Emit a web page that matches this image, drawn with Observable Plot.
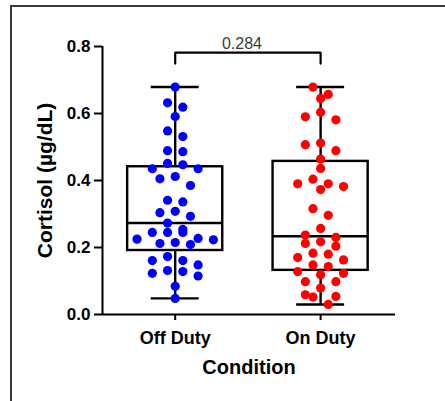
<!DOCTYPE html>
<html>
<head>
<meta charset="utf-8">
<script src="https://cdn.jsdelivr.net/npm/d3@7"></script>
<script src="https://cdn.jsdelivr.net/npm/@observablehq/plot@0.6"></script>
<style>
  html, body { margin: 0; padding: 0; background: #fff; }
  #wrap { position: relative; width: 445px; height: 401px; overflow: hidden; }
  #border { position: absolute; left: 10px; top: 5px; right: -10px; bottom: -10px;
            border-top: 2px solid #3a3a3a; border-left: 2px solid #3a3a3a; pointer-events: none; }
</style>
</head>
<body>
<div id="wrap"></div>
<script>
// ---- data ----
const categories = ["Off Duty", "On Duty"];
const groupColors = ["#0000ff", "#ff0000"];

const offDuty = [
  0.679, 0.632, 0.619, 0.591, 0.548, 0.531, 0.489, 0.486, 0.451, 0.447,
  0.435, 0.435, 0.412, 0.405, 0.385, 0.341, 0.336, 0.308, 0.304, 0.293,
  0.273, 0.254, 0.245, 0.245, 0.245, 0.227, 0.225, 0.223, 0.215, 0.212,
  0.209, 0.173, 0.161, 0.161, 0.148, 0.131, 0.128, 0.123, 0.115, 0.084,
  0.048
];
const onDuty = [
  0.679, 0.657, 0.645, 0.604, 0.590, 0.581, 0.512, 0.507, 0.489, 0.464,
  0.436, 0.404, 0.390, 0.390, 0.382, 0.373, 0.316, 0.296, 0.257, 0.237,
  0.230, 0.217, 0.212, 0.204, 0.183, 0.180, 0.170, 0.163, 0.148, 0.143,
  0.128, 0.123, 0.119, 0.098, 0.098, 0.079, 0.059, 0.054, 0.052, 0.030
];
const seriesValues = [offDuty, onDuty];

const comparisonFrom = "Off Duty";
const comparisonTo = "On Duty";
const pValueLabel = "0.284";

const yTicks = [0.0, 0.2, 0.4, 0.6, 0.8];
const xTitle = "Condition";
const yTitle = "Cortisol (µg/dL)";

// ---- layout helpers ----
const xDomain = [0.5, 2.515];
const boxHalf = 0.327;   // half box width, x units
const capHalf = 0.165;   // half whisker cap width
const colStep = 0.105;   // horizontal step between dots in a row
const rowBin = 0.027;    // vertical bin height (data units) for rows of dots

function rowOffsets(values) {
  const order = d3.range(values.length).sort((a, b) => values[b] - values[a]);
  const off = new Array(values.length).fill(0);
  let i = 0;
  while (i < order.length) {
    const start = values[order[i]];
    let j = i;
    while (j < order.length && start - values[order[j]] < rowBin) j++;
    const row = order.slice(i, j);
    const n = row.length;
    const slots = d3.range(n).map(k => (k - (n - 1) / 2) * colStep)
      .sort((a, b) => Math.abs(a) - Math.abs(b) || a - b);
    row.forEach((idx, k) => off[idx] = slots[k]);
    i = j;
  }
  return off;
}

// R-6 quantiles (as in GraphPad)
function q6(sorted, p) {
  const n = sorted.length, h = (n + 1) * p, lo = Math.floor(h);
  if (lo < 1) return sorted[0];
  if (lo >= n) return sorted[n - 1];
  return sorted[lo - 1] + (h - lo) * (sorted[lo] - sorted[lo - 1]);
}

const points = categories.flatMap((c, ci) => {
  const vals = seriesValues[ci];
  const off = rowOffsets(vals);
  return vals.map((v, k) => ({cond: c, xi: ci + 1 + off[k], value: v}));
});

const stats = categories.map((c, ci) => {
  const s = seriesValues[ci].slice().sort(d3.ascending);
  return {cond: c, xi: ci + 1, min: s[0], q1: q6(s, 0.25), med: q6(s, 0.5), q3: q6(s, 0.75), max: s[s.length - 1]};
});

const bracketLevel = 0.782, bracketDrop = 0.033, labelLift = 0.026;
const xa = categories.indexOf(comparisonFrom) + 1, xb = categories.indexOf(comparisonTo) + 1;
const bracket = [
  {x: xa, y: bracketLevel - bracketDrop},
  {x: xa, y: bracketLevel},
  {x: xb, y: bracketLevel},
  {x: xb, y: bracketLevel - bracketDrop}
];

const lw = 2.4;
const chart = Plot.plot({
  width: 445,
  height: 401,
  marginLeft: 102,
  marginRight: 50,
  marginTop: 46,
  marginBottom: 87,
  style: {fontFamily: "'Liberation Sans', Arial, sans-serif", background: "transparent", color: "#000"},
  x: {domain: xDomain},
  y: {domain: [0, 0.8]},
  color: {domain: categories, range: groupColors},
  marks: [
    // boxes
    Plot.rect(stats, {x1: d => d.xi - boxHalf, x2: d => d.xi + boxHalf, y1: "q1", y2: "q3", fill: "none", stroke: "#000", strokeWidth: lw}),
    Plot.ruleY(stats, {x1: d => d.xi - boxHalf, x2: d => d.xi + boxHalf, y: "med", stroke: "#000", strokeWidth: lw}),
    Plot.ruleX(stats, {x: "xi", y1: "q3", y2: "max", stroke: "#000", strokeWidth: lw}),
    Plot.ruleX(stats, {x: "xi", y1: "min", y2: "q1", stroke: "#000", strokeWidth: lw}),
    Plot.ruleY(stats, {x1: d => d.xi - capHalf, x2: d => d.xi + capHalf, y: "max", stroke: "#000", strokeWidth: lw}),
    Plot.ruleY(stats, {x1: d => d.xi - capHalf, x2: d => d.xi + capHalf, y: "min", stroke: "#000", strokeWidth: lw}),
    // axis lines
    Plot.ruleY([0], {stroke: "#000", strokeWidth: 2}),
    Plot.ruleX([xDomain[0]], {stroke: "#000", strokeWidth: 2}),
    // dots
    Plot.dot(points, {x: "xi", y: "value", r: 4.6, fill: "cond", stroke: null}),
    // significance bracket
    Plot.line(bracket, {x: "x", y: "y", stroke: "#000", strokeWidth: 2.2, strokeLinejoin: "miter"}),
    Plot.text([pValueLabel], {x: (xa + xb) / 2, y: bracketLevel + labelLift, text: d => d, dx: -6,
      fontSize: 16, fill: "#3c3c3c", textAnchor: "middle", lineAnchor: "middle"}),
    // axes
    Plot.axisY({ticks: yTicks, tickFormat: d3.format(".1f"), tickSize: 8, tickPadding: 4,
      fontSize: 17, fontWeight: "bold", strokeWidth: 2, label: null}),
    Plot.axisX({ticks: [1, 2], tickFormat: d => categories[d - 1], tickSize: 6, tickPadding: 11,
      fontSize: 18, fontWeight: "bold", strokeWidth: 2, label: null}),
    // axis titles
    Plot.text([xTitle], {frameAnchor: "bottom", dy: 53, text: d => d, fontSize: 20, fontWeight: "bold",
      textAnchor: "middle", lineAnchor: "middle"}),
    Plot.text([yTitle], {frameAnchor: "left", dx: -57, rotate: -90, text: d => d, fontSize: 21, fontWeight: "bold",
      textAnchor: "middle", lineAnchor: "middle"})
  ]
});

const wrap = document.getElementById("wrap");
wrap.appendChild(chart);
const border = document.createElement("div");
border.id = "border";
wrap.appendChild(border);
</script>
</body>
</html>
